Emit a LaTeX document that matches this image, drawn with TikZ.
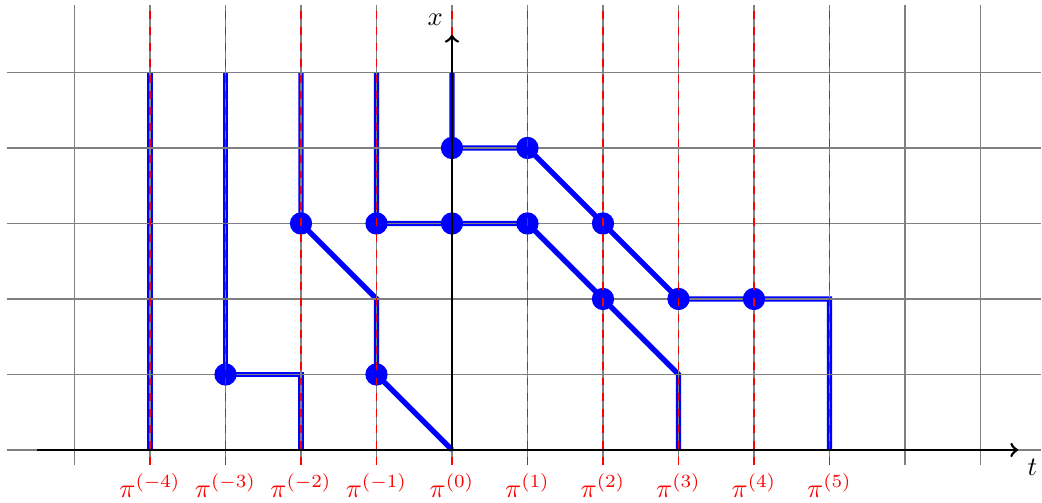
\documentclass[tikz,border=0pt]{standalone}
\begin{document}
\begin{tikzpicture}[
  gridline/.style={gray, line width=0.5pt},
  reddash/.style={red, dashed, line width=0.4pt},
  bluepath/.style={blue, line width=2pt},
  dot/.style={circle, fill=blue, inner sep=0pt, minimum size=8.4pt},
  axisline/.style={black, line width=1pt, ->},
  lab/.style={red, anchor=north, inner sep=3pt}
]
\useasboundingbox (-5.987,-0.70) rectangle (7.815,5.96);
% lattice coordinates
\foreach \i in {-4,...,5}{
  \foreach \j in {0,...,5}{
    \coordinate (p\i x\j) at (\i,\j);
  }
}
% blue paths
\draw[bluepath] (p-4x0) -- (p-4x5);
\draw[bluepath] (p-3x5) -- (p-3x1) -- (p-2x1) -- (p-2x0);
\draw[bluepath] (p-2x5) -- (p-2x3) -- (p-1x2) -- (p-1x1) -- (p0x0);
\draw[bluepath] (p-1x5) -- (p-1x3) -- (p0x3) -- (p1x3) -- (p2x2) -- (p3x1) -- (p3x0);
\draw[bluepath] (p0x5) -- (p0x4) -- (p1x4) -- (p2x3) -- (p3x2) -- (p4x2) -- (p5x2) -- (p5x0);
% grid
\draw[gridline] (-5.9,-0.2) grid (7.8,5.9);
% dots
\foreach \i/\j [count=\k] in {-3/1,-2/3,-1/1,-1/3,0/3,1/3,2/2,0/4,1/4,2/3,3/2,4/2}{
  \node[dot] (d\k) at (p\i x\j) {};
}
% red dashed lines and labels
\foreach \i in {-4,...,5}{
  \coordinate (top\i) at (\i,5.9);
  \node[lab] (l\i) at (\i,-0.2) {$\pi^{(\i)}$};
  \draw[reddash] (l\i.north) -- (top\i);
}
% axes
\coordinate (xs) at (-5.5,0);
\coordinate (xe) at (7.5,0);
\coordinate (ye) at (0,5.5);
\draw[axisline] (xs) -- (xe);
\draw[axisline] (p0x0) -- (ye);
\node[anchor=north west, inner sep=3.3pt] (tl) at (xe) {$t$};
\node[anchor=south east, inner sep=3.3pt] (xl) at (ye) {$x$};
\end{tikzpicture}
\end{document}
